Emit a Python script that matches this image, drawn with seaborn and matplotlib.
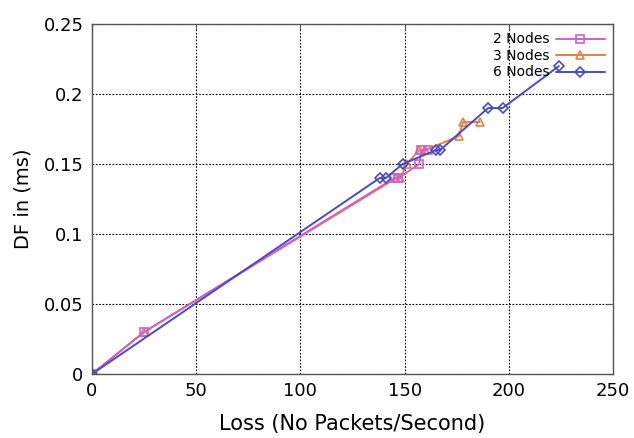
import numpy as np
import pandas as pd
import matplotlib
matplotlib.use("Agg")
import matplotlib.pyplot as plt
import matplotlib.ticker as mticker
import seaborn as sns

# values
loss_2 = [0, 25, 145, 147, 157, 158, 161]
df_2 = [0, 0.03, 0.14, 0.14, 0.15, 0.16, 0.16]

loss_3 = [0, 25, 146, 148, 151, 157, 160, 176, 178, 186]
df_3 = [0, 0.03, 0.14, 0.14, 0.15, 0.16, 0.16, 0.17, 0.18, 0.18]

loss_6 = [0, 138, 141, 149, 165, 167, 190, 197, 224]
df_6 = [0, 0.14, 0.14, 0.15, 0.16, 0.16, 0.19, 0.19, 0.22]

SERIES = [
    ("2 Nodes", loss_2, df_2, "#d060d0", "s"),
    ("3 Nodes", loss_3, df_3, "#e0804a", "^"),
    ("6 Nodes", loss_6, df_6, "#4a4ac8", "D"),
]

sns.set_style("white")
plt.rcParams['font.family'] = ['DejaVu Sans']
plt.rcParams['text.color'] = 'black'
plt.rcParams['axes.labelcolor'] = 'black'
plt.rcParams['xtick.color'] = 'black'
plt.rcParams['ytick.color'] = 'black'

fig = plt.figure(figsize=(6.34, 4.38), dpi=100)
ax = fig.add_axes([0.145, 0.146, 0.822, 0.799])

# draw 3 nodes first so the 2 nodes line shows over it, as in the reference
for name, xs, ys, color, marker in [SERIES[1], SERIES[0], SERIES[2]]:
    d = pd.DataFrame({"loss": xs, "df": ys})
    sns.lineplot(data=d, x="loss", y="df", ax=ax, sort=False, color=color,
                 linewidth=1.4, marker=marker, markersize=6 if marker != "D" else 5,
                 markerfacecolor="none", markeredgecolor=color, markeredgewidth=1.2,
                 label=name)

ax.set_xlim(0, 250)
ax.set_ylim(0, 0.25)
ax.set_xticks(np.arange(0, 251, 50))
ax.set_yticks(np.arange(0, 0.251, 0.05))
ax.yaxis.set_major_formatter(mticker.FuncFormatter(lambda v, p: f"{v:g}" if v else "0"))
ax.xaxis.set_major_formatter(mticker.FuncFormatter(lambda v, p: f"{v:g}"))

ax.grid(True, color="black", linestyle=(0, (1.5, 1.5)), linewidth=0.8)
for s in ax.spines.values():
    s.set_color("#555555")
    s.set_linewidth(1.0)
ax.tick_params(direction="in", length=4, top=True, right=True, labelsize=13,
               color="#555555", labelcolor="black", pad=6)

ax.set_xlabel("Loss (No Packets/Second)", fontsize=15, labelpad=10)
ax.set_ylabel("DF in (ms)", fontsize=14, labelpad=8)

# legend order 2, 3, 6 nodes
handles, labels = ax.get_legend_handles_labels()
order = [labels.index(n) for n, *_ in SERIES]
ax.legend([handles[i] for i in order], [labels[i] for i in order],
          loc="upper right", frameon=False, markerfirst=False, fontsize=10,
          handlelength=3.5, labelspacing=0.18, borderaxespad=0.3, handletextpad=0.5,
          borderpad=0.3)

fig.savefig("out.png", dpi=100)
